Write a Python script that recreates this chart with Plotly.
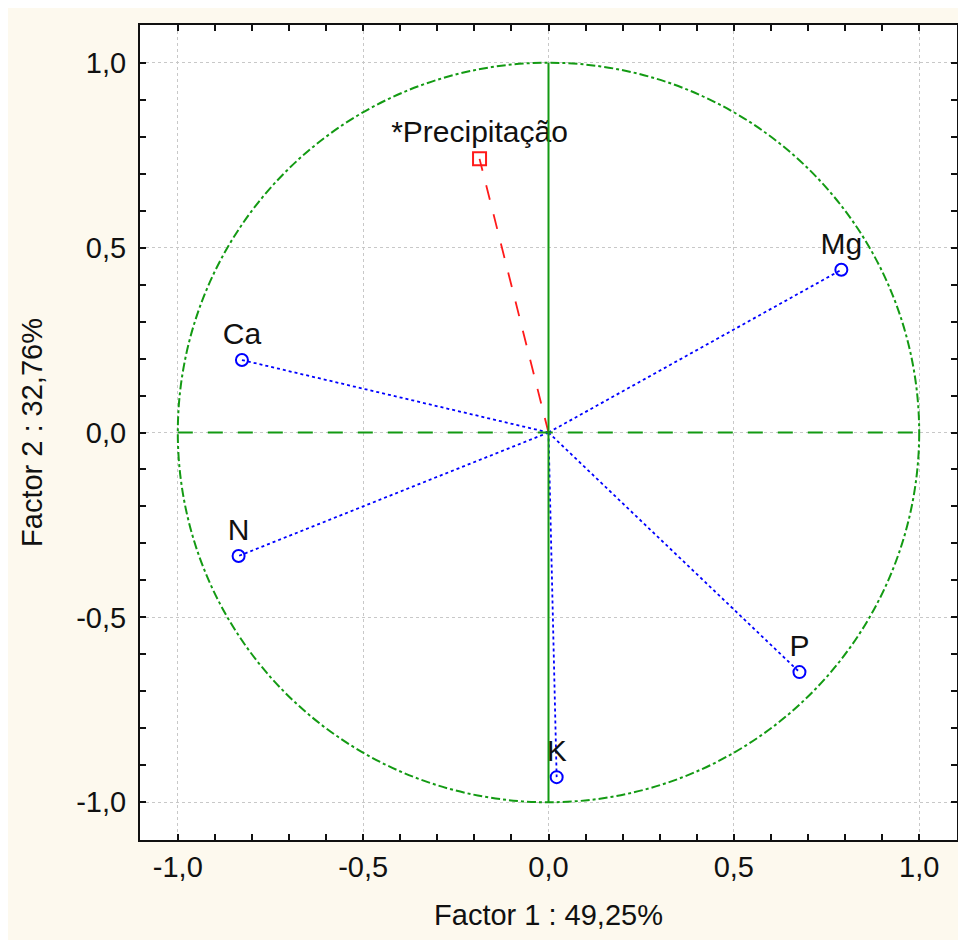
import plotly.graph_objects as go

# Data
variables = ["Mg", "Ca", "N", "P", "K"]
factor1 = [0.790, -0.827, -0.836, 0.677, 0.022]
factor2 = [0.440, 0.196, -0.334, -0.648, -0.932]

supp_names = ["*Precipitação"]
supp_f1 = [-0.186]
supp_f2 = [0.740]

x_title = "Factor 1 : 49,25%"
y_title = "Factor 2 : 32,76%"
tick_vals = [-1.0, -0.5, 0.0, 0.5, 1.0]
tick_text = ["-1,0", "-0,5", "0,0", "0,5", "1,0"]

GREEN = "#139a13"
BLUE = "#0000ff"
RED = "#ff1a1a"
CREAM = "#fdf9ee"
FONT_AX = "Liberation Sans Narrow, Arial Narrow, Liberation Sans, Arial"
FONT_LBL = "Liberation Sans, Arial"

fig = go.Figure()

for name, a, b in zip(variables, factor1, factor2):
    fig.add_trace(go.Scatter(x=[0, a], y=[0, b], mode="lines",
                             line=dict(color=BLUE, width=1.8, dash="dot"),
                             hoverinfo="skip", showlegend=False))
for name, a, b in zip(supp_names, supp_f1, supp_f2):
    fig.add_trace(go.Scatter(x=[0, a], y=[0, b], mode="lines",
                             line=dict(color=RED, width=1.8, dash="longdash"),
                             hoverinfo="skip", showlegend=False))

fig.add_trace(go.Scatter(x=factor1, y=factor2, mode="markers+text", text=variables,
                         textposition="top center",
                         textfont=dict(family=FONT_LBL, size=30, color="#111111"),
                         marker=dict(symbol="circle-open", size=12, color=BLUE, line=dict(width=2)),
                         showlegend=False))
fig.add_trace(go.Scatter(x=supp_f1, y=supp_f2, mode="markers+text", text=supp_names,
                         textposition="top center",
                         textfont=dict(family=FONT_LBL, size=30, color="#111111"),
                         marker=dict(symbol="square-open", size=13, color=RED, line=dict(width=2)),
                         showlegend=False))

shapes = [
    dict(type="circle", xref="x", yref="y", x0=-1, x1=1, y0=-1, y1=1,
         line=dict(color=GREEN, width=2, dash="dashdot"), layer="above"),
    dict(type="line", xref="x", yref="y", x0=0, x1=0, y0=-1, y1=1,
         line=dict(color=GREEN, width=2), layer="above"),
    dict(type="line", xref="x", yref="y", x0=-1, x1=1, y0=0, y1=0,
         line=dict(color=GREEN, width=2, dash="longdash"), layer="above"),
]

axis_common = dict(
    range=[-1.102, 1.102], tickvals=tick_vals, ticktext=tick_text,
    ticks="inside", ticklen=6, tickwidth=2, tickcolor="#111111",
    showline=True, linecolor="#111111", linewidth=2, mirror="ticks",
    showgrid=True, gridcolor="#c8c8c8", griddash="dot", gridwidth=1,
    zeroline=False, automargin=False,
    tickfont=dict(family=FONT_AX, size=29, color="#111111"),
    minor=dict(dtick=0.1, tick0=0, ticks="inside", ticklen=6, tickwidth=2,
               tickcolor="#111111", showgrid=False),
)

fig.update_layout(
    width=966, height=940,
    margin=dict(l=132, r=17, t=17, b=108),
    paper_bgcolor=CREAM, plot_bgcolor="white",
    shapes=shapes,
    xaxis=dict(**axis_common,
               title=dict(text=x_title, standoff=23,
                          font=dict(family=FONT_AX, size=29, color="#111111"))),
    yaxis=dict(**axis_common, ticklabelstandoff=6,
               title=dict(text=y_title, standoff=25,
                          font=dict(family=FONT_AX, size=29, color="#111111"))),
)

fig.write_html("out.html")
